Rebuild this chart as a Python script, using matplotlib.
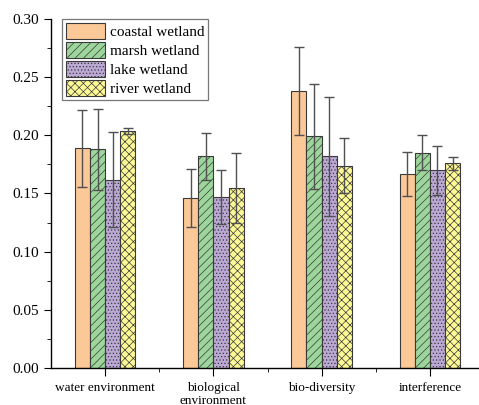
import numpy as np
import matplotlib
matplotlib.use('Agg')
import matplotlib.pyplot as plt
from matplotlib.ticker import MultipleLocator, FixedLocator

categories = ['water environment', 'biological\nenvironment', 'bio-diversity', 'interference']
series = ['coastal wetland', 'marsh wetland', 'lake wetland', 'river wetland']

coastal = [0.189, 0.146, 0.238, 0.167]
marsh = [0.188, 0.182, 0.199, 0.185]
lake = [0.162, 0.147, 0.182, 0.170]
river = [0.204, 0.155, 0.174, 0.176]

coastal_err = [0.033, 0.025, 0.038, 0.019]
marsh_err = [0.035, 0.020, 0.045, 0.015]
lake_err = [0.041, 0.023, 0.051, 0.021]
river_err = [0.0025, 0.030, 0.024, 0.0055]

colors = ['#fbc897', '#9cd69b', '#bba8d5', '#fdf995']
hatches = ['', '////', '.....', 'xxxx']

plt.rcParams['font.family'] = ['Liberation Serif', 'DejaVu Serif']
plt.rcParams['hatch.linewidth'] = 0.5

fig = plt.figure(figsize=(4.79, 4.05), dpi=100)
ax = fig.add_axes([51 / 479, 37 / 405, 433 / 479, 349 / 405])

x = np.arange(len(categories))
width = 0.14
values = [coastal, marsh, lake, river]
errors = [coastal_err, marsh_err, lake_err, river_err]

for i, (vals, errs) in enumerate(zip(values, errors)):
    pos = x + (i - 1.5) * width
    ax.bar(pos, vals, width, color=colors[i], hatch=hatches[i],
           edgecolor='#3a3a3a', linewidth=0.8, label=series[i], zorder=2)
    ax.errorbar(pos, vals, yerr=errs, fmt='none', ecolor='#505050',
                elinewidth=1.0, capsize=3.5, capthick=1.0, zorder=3)

ax.set_xlim(-0.5, 3.5)
ax.set_ylim(0, 0.30)
ax.yaxis.set_major_locator(MultipleLocator(0.05))
ax.yaxis.set_minor_locator(MultipleLocator(0.025))
ax.yaxis.set_major_formatter(matplotlib.ticker.FormatStrFormatter('%.2f'))
ax.set_xticks(x)
ax.set_xticklabels(categories, fontsize=9.5, linespacing=1.1)
ax.xaxis.set_minor_locator(FixedLocator([0.5, 1.5, 2.5]))

for s in ['top', 'right']:
    ax.spines[s].set_visible(False)
for s in ['left', 'bottom']:
    ax.spines[s].set_linewidth(1.0)

ax.tick_params(axis='y', which='major', direction='out', length=5, labelsize=11)
ax.tick_params(axis='y', which='minor', direction='out', length=3)
ax.tick_params(axis='x', which='major', direction='out', length=6, pad=4)
ax.tick_params(axis='x', which='minor', direction='out', length=3)

leg = ax.legend(loc='upper left', bbox_to_anchor=(0.025, 1.0), fontsize=11,
                frameon=True, fancybox=False, handlelength=2.6, handleheight=1.3,
                handletextpad=0.3, labelspacing=0.15, borderpad=0.25,
                borderaxespad=0.0)
leg.get_frame().set_edgecolor('#555555')
leg.get_frame().set_linewidth(0.9)

fig.savefig('out.png', dpi=100)
